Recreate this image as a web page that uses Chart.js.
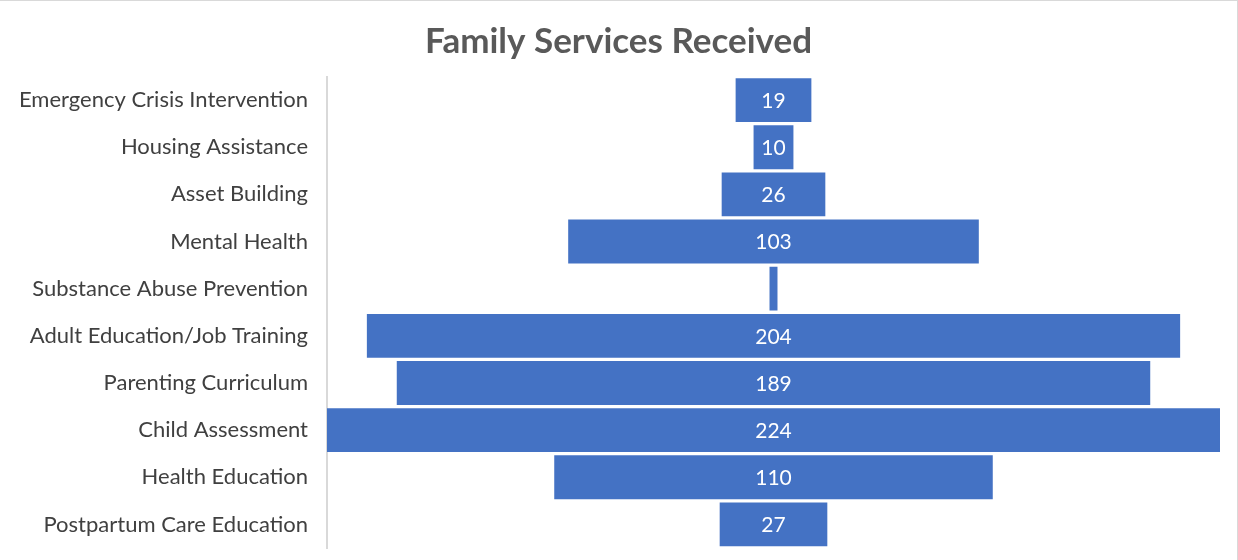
<!DOCTYPE html>
<html>
<head>
<meta charset="utf-8">
<script src="https://cdn.jsdelivr.net/npm/chart.js@4"></script>
<style>
  html, body { margin: 0; padding: 0; background: #fff; }
  #wrap { width: 1238px; height: 560px; box-sizing: border-box; border-top: 1px solid #d9d9d9; border-right: 1px solid #d9d9d9; }
  canvas { display: block; }
</style>
</head>
<body>
<div id="wrap"><canvas id="funnel" width="1237" height="559"></canvas></div>
<script>
const services = [
    "Emergency Crisis Intervention",
    "Housing Assistance",
    "Asset Building",
    "Mental Health",
    "Substance Abuse Prevention",
    "Adult Education/Job Training",
    "Parenting Curriculum",
    "Child Assessment",
    "Health Education",
    "Postpartum Care Education"
];
const counts = [19, 10, 26, 103, 2, 204, 189, 224, 110, 27];

// funnel: each bar floats around zero
const spans = counts.map(v => [-v / 2, v / 2]);
const half = Math.max(...counts) / 2;

const valueLabels = {
    id: "valueLabels",
    afterDatasetsDraw(chart) {
        const ctx = chart.ctx;
        const meta = chart.getDatasetMeta(0);
        ctx.save();
        ctx.fillStyle = "#ffffff";
        ctx.font = "21px Lato, 'Open Sans', sans-serif";
        ctx.textAlign = "center";
        ctx.textBaseline = "middle";
        meta.data.forEach((bar, i) => {
            if (counts[i] < 5) return;
            ctx.fillText(String(counts[i]), (bar.x + bar.base) / 2, bar.y + 1);
        });
        ctx.restore();
    }
};

new Chart(document.getElementById("funnel"), {
    type: "bar",
    data: {
        labels: services,
        datasets: [{
            data: spans,
            backgroundColor: "#4472C4",
            barPercentage: 0.93,
            categoryPercentage: 1.0
        }]
    },
    options: {
        indexAxis: "y",
        responsive: false,
        animation: false,
        layout: { padding: { top: 2, right: 17, bottom: 12, left: 17 } },
        plugins: {
            legend: { display: false },
            tooltip: { enabled: false },
            title: {
                display: true,
                text: "Family Services Received",
                color: "#595959",
                font: { family: "Lato, 'Open Sans', sans-serif", size: 35, weight: "bold", lineHeight: 1.1 },
                padding: { top: 19, bottom: 16 }
            }
        },
        scales: {
            x: {
                display: false,
                min: -half,
                max: half
            },
            y: {
                grid: { display: false },
                border: { display: true, color: "#d9d9d9", width: 2 },
                ticks: {
                    color: "#404040",
                    padding: 11,
                    font: { family: "Lato, 'Open Sans', sans-serif", size: 22 }
                },
                afterFit(scale) {
                    scale.width = 310;
                    scale.paddingTop = 0;
                    scale.paddingBottom = 0;
                }
            }
        }
    },
    plugins: [valueLabels]
});
</script>
</body>
</html>
